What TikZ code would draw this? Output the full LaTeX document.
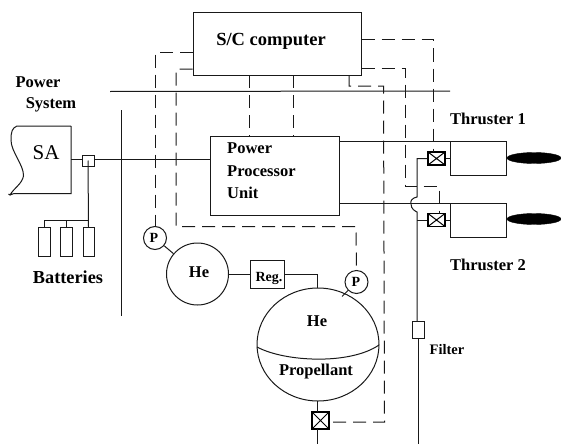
\documentclass[tikz,border=0pt]{standalone}
\usepackage{fontspec}
\setmainfont{Liberation Serif}
\usetikzlibrary{shapes.geometric}
\newcommand{\fs}[1]{\fontsize{#1}{#1}\selectfont}
\tikzset{
  x=1pt,y=-1pt,
  wire/.style={draw=black!90,line width=1pt},
  sig/.style={draw=black!90,line width=1pt,dash pattern=on 13pt off 7pt},
  boxn/.style={draw=black!90,line width=1pt,fill=white,inner sep=0pt,minimum width=#1},
  lab/.style={inner sep=0pt,font=\fs{16.5}\bfseries},
  circ/.style={draw=black!90,line width=1pt,circle,inner sep=0pt,fill=white,minimum size=#1},
  valve/.style={draw=black,line width=1.1pt,fill=white,inner sep=0pt,minimum width=17pt,minimum height=13pt,
    path picture={\draw[line width=1pt] (path picture bounding box.north west)--(path picture bounding box.south east)
      (path picture bounding box.north east)--(path picture bounding box.south west);}},
  plume/.style={ellipse,fill=black,draw=black,inner sep=0pt,minimum width=54pt,minimum height=11pt},
}
\begin{document}
\begin{tikzpicture}
\useasboundingbox (0,0) rectangle (561,444);
% buses
\coordinate (hbl) at (110,91.5); \coordinate (hbr) at (450,91);
\coordinate (vbt) at (121,110); \coordinate (vbb) at (121,316);
\draw[wire] (hbl)--(hbr);
\draw[wire] (vbt)--(vbb);
% main blocks
\node[boxn=168pt,minimum height=62pt,anchor=center] (sc) at (277,44) {};
\node[lab,font=\fs{18.5}\bfseries] (sclab) at (271,41) {S/C computer};
\node[boxn=129pt,minimum height=79pt] (ppu) at (275,176) {};
\node[lab,anchor=west] (ppu1) at (227,148) {Power};
\node[lab,anchor=west] (ppu2) at (227,171) {Processor};
\node[lab,anchor=west] (ppu3) at (227,193) {Unit};
% thrusters
\node[boxn=56pt,minimum height=34pt] (t1) at (478,158) {};
\node[boxn=56pt,minimum height=34pt] (t2) at (478,220) {};
\node[plume] (pl1) at (534,158) {};
\node[plume] (pl2) at (534,219) {};
\node[lab] (t1lab) at (488,119) {Thruster 1};
\node[lab] (t2lab) at (488,265) {Thruster 2};
% valves
\node[valve] (v1) at (436.5,158.5) {};
\node[valve] (v2) at (436.5,220) {};
\node[valve,minimum height=17pt] (v3) at (320.5,420.5) {};
% tanks
\node[circ=62pt] (he1) at (197.5,274) {};
\node[lab] (he1lab) at (199,272) {He};
\node[boxn=34pt,minimum height=28pt] (reg) at (267,274) {};
\node[lab,font=\fs{14}\bfseries] (reglab) at (269,278) {Reg.};
\node[ellipse,draw=black!90,line width=1pt,inner sep=0pt,minimum width=122pt,minimum height=113pt] (tank) at (318,344.5) {};
\coordinate (il) at (257,347); \coordinate (ir) at (379,345);
\draw[wire] (il) .. controls (285,362) and (350,365) .. (ir);
\node[lab] (he2lab) at (317,321) {He};
\node[lab] (proplab) at (316,372) {Propellant};
\node[circ=23pt] (p1) at (155,238) {};
\node[circ=23pt] (p2) at (356.5,282) {};
\node[lab,font=\fs{14}\bfseries] (p1lab) at (154,238) {P};
\node[lab,font=\fs{14}\bfseries] (p2lab) at (356,282) {P};
% filter
\node[boxn=12pt,minimum height=17pt] (filt) at (418,329.5) {};
\node[lab,font=\fs{14.5}\bfseries] (filtlab) at (447,350) {Filter};
% solar array
\draw[wire] (71,126) -- (17,126) .. controls (12,128) and (11,132) .. (11,140)
  .. controls (11,152) and (24,165) .. (23.5,176) .. controls (22,184) and (14,188) .. (10,195)
  -- (8.5,194) (10,195) -- (14,193.5) -- (71,193.5) -- (71,126);
\coordinate (saout) at (71,159.5);
\node[inner sep=0pt,font=\fs{21}] (salab) at (46,153) {SA};
\node[lab] (pw) at (38,82) {Power};
\node[lab] (sy) at (51,105) {System};
% batteries
\node[boxn=12pt,minimum height=29pt] (b1) at (44,241.5) {};
\node[boxn=12pt,minimum height=29pt] (b2) at (66,241.5) {};
\node[boxn=11pt,minimum height=29pt] (b3) at (88.5,241.5) {};
\node[lab,font=\fs{18.3}\bfseries] (batlab) at (68,277) {Batteries};
\node[draw=black!90,line width=1pt,inner sep=0pt,minimum width=12pt,minimum height=11pt] (sw) at (88,160.5) {};
% power wiring
\draw[wire] (saout) -- (sw.west |- saout) (sw.east |- saout) -- (ppu.west |- saout);
\draw[wire] (sw.center) -- (b3.north);
\draw[wire] (b1.north) -- ++(0,-6) -| (b3.north);
\draw[wire] (b2.north) -- ++(0,-6);
\draw[wire] (ppu.east |- 0,141) -- (t1.west |- 0,141);
\draw[wire] (ppu.east |- 0,203) -- (t2.west |- 0,203);
\draw[wire] (v1.east) -- (t1.west |- v1.east);
\draw[wire] (v2.east) -- (t2.west |- v2.east);
% propellant wiring
\draw[wire] (v1.west) -- (417,158.5) -- (417,197) .. controls (412,198) and (410,201) .. (411,204)
  .. controls (411,209) and (415,211) .. (417,212) -- (417,321);
\draw[wire] (v2.west) -- (417,220);
\draw[wire] (filt.south) -- (418,444);
\draw[wire] (he1.east |- reg.west) -- (reg.west);
\draw[wire] (reg.east) -- (317,274) -- (317,288);
\draw[wire] (p1) -- (he1);
\draw[wire] (p2.225) -- ++(-6,6);
\draw[wire] (317,401) -- (317,412);
\draw[wire] (317,429) -- (317,444);
% signal wiring
\draw[sig] (sc.west |- 0,52) -| (p1.north);
\draw[sig] (sc.west |- 0,69) -- (176,69) -- (176,226.5) -- (356,226.5) -- (p2.north);
\draw[sig] (249,75) -- (249,0 |- ppu.north);
\draw[sig] (293,75) -- (293,0 |- ppu.north);
\draw[sig] (sc.east |- 0,40) -- (433,40) -- (433,152);
\draw[sig] (sc.east |- 0,68) -- (405,68) -- (405,186) -- (439,186) -- (439,213.5);
\draw[sig] (349,75) -- (349,86) -- (383.5,86) -- (384.5,422) -- (v3.east |- 0,422);
\end{tikzpicture}
\end{document}
